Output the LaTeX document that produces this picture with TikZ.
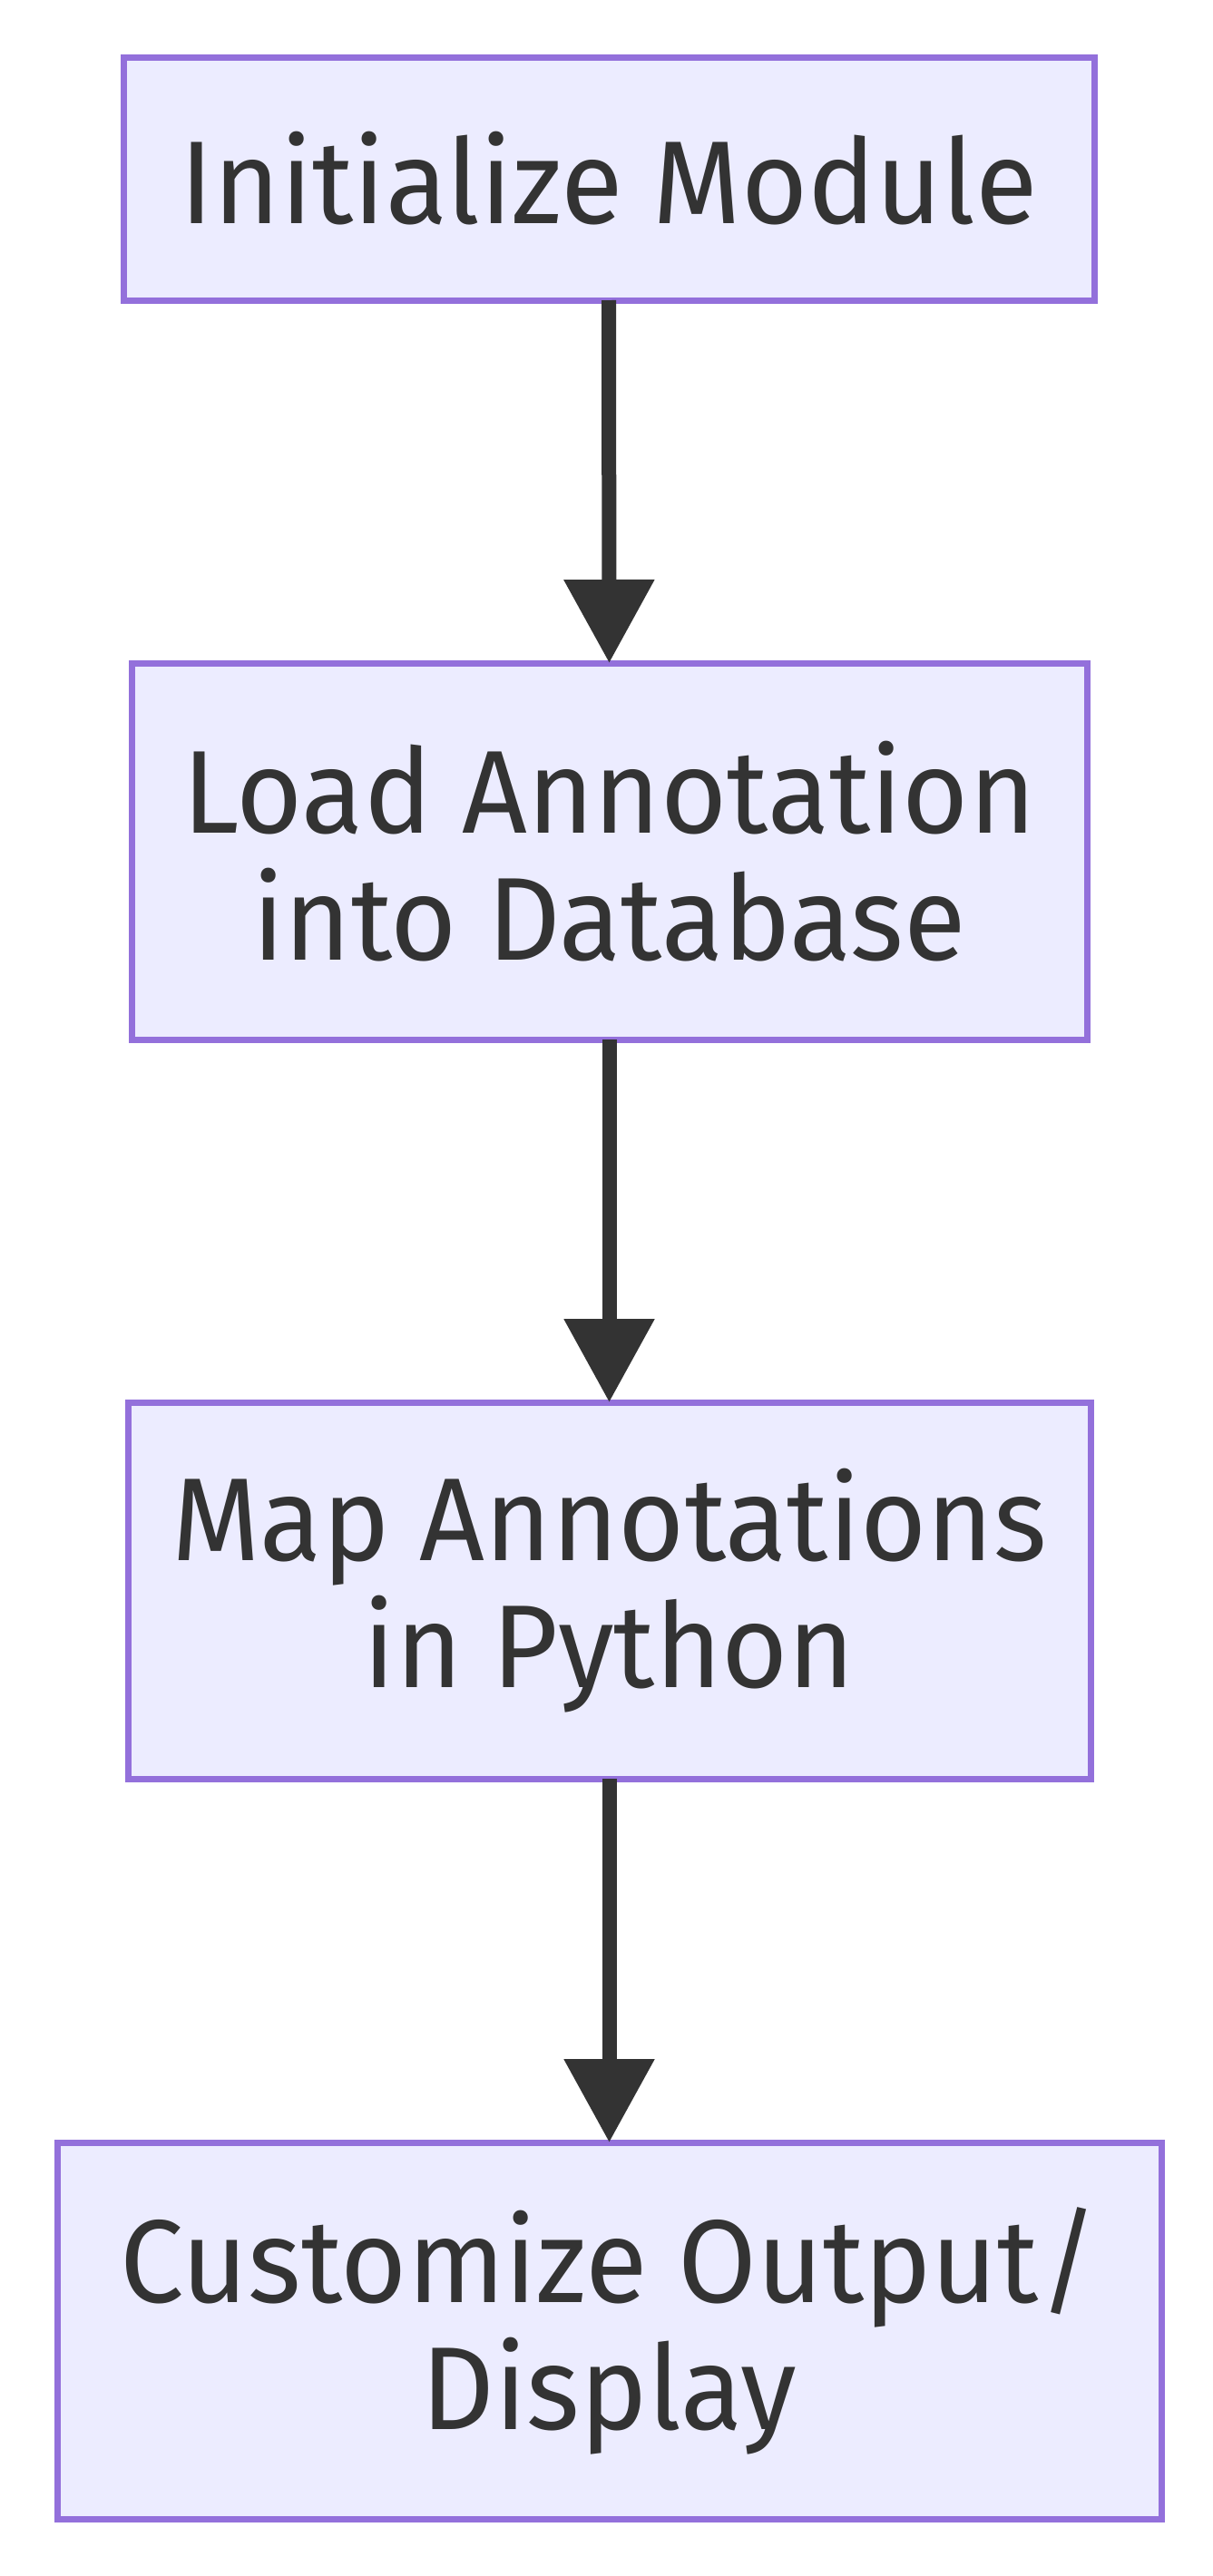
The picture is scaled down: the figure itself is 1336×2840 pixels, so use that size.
\documentclass[tikz,border=0pt]{standalone}
\usepackage{fontspec}
\setmainfont[FakeStretch=0.965]{Fira Sans}
\usetikzlibrary{arrows.meta}
\definecolor{boxfill}{HTML}{ECECFF}
\definecolor{boxline}{HTML}{9370DB}
\definecolor{ink}{HTML}{333333}
\begin{document}
\begin{tikzpicture}[x=1pt,y=-1pt,
  flowbox/.style={draw=boxline,fill=boxfill,line width=7pt,inner sep=0pt,outer sep=0pt,
    align=center,text=ink,font=\fontsize{130}{140}\selectfont},
  flowarrow/.style={draw=ink,line width=16pt,-{Triangle[length=92pt,width=96pt]}}]
\useasboundingbox (0,0) rectangle (1336,2840);
\fill[white] (0,0) rectangle (1336,2840);
\node[flowbox,minimum width=1070pt,minimum height=268pt] (b1) at (671,197) {Initialize Module};
\node[flowbox,minimum width=1053pt,minimum height=415pt] (b2) at (671.5,938.5) {Load Annotation\\into Database};
\node[flowbox,minimum width=1061pt,minimum height=415pt] (b3) at (671.5,1753.5) {Map Annotations\\in Python};
\node[flowbox,minimum width=1217pt,minimum height=415pt] (b4) at (671.5,2569.5) {Customize Output/\\Display};
\draw[flowarrow] (b1.south) -- (b2.north);
\draw[flowarrow] (b2.south) -- (b3.north);
\draw[flowarrow] (b3.south) -- (b4.north);
\end{tikzpicture}
\end{document}
